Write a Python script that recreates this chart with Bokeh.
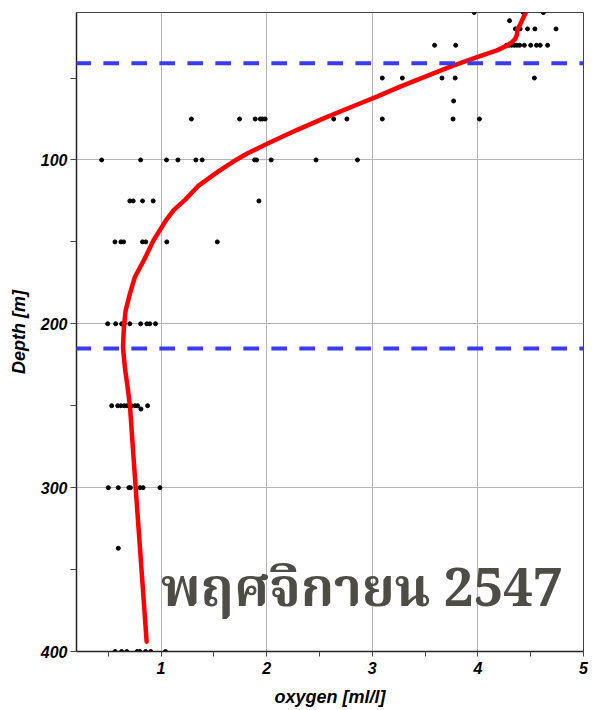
import math
from bokeh.plotting import figure
from bokeh.models import Range1d, FixedTicker, Label, BoxAnnotation, ColumnDataSource
from bokeh.embed import file_html
from bokeh.resources import INLINE

# ---- data ----
sample_depth_m = (
    [10] * 3 + [15] * 1 + [20] * 5 + [30] * 13 + [50] * 5 + [64] * 1 + [75] * 11
    + [100] * 11 + [125] * 5 + [150] * 7 + [200] * 9 + [250] * 9 + [252] * 1
    + [300] * 7 + [337] * 1 + [400] * 8
)
sample_oxygen = [
    3.965, 4.43, 4.62,
    4.30,
    4.355, 4.40, 4.47, 4.54, 4.74,
    3.59, 3.79, 4.27, 4.295, 4.32, 4.345, 4.37, 4.395, 4.44, 4.50, 4.555, 4.59, 4.66,
    3.095, 3.285, 3.66, 3.785, 4.535,
    3.77,
    1.288, 1.744, 1.892, 1.94, 1.96, 1.986, 2.635, 2.76, 3.095, 3.765, 4.015,
    0.438, 0.807, 1.052, 1.16, 1.33, 1.39, 1.886, 1.905, 2.043, 2.468, 2.86,
    0.705, 0.737, 0.825, 0.926, 1.927,
    0.564, 0.62, 0.646, 0.825, 0.856, 1.055, 1.533,
    0.495, 0.571, 0.627, 0.652, 0.705, 0.807, 0.866, 0.894, 0.948,
    0.533, 0.59, 0.62, 0.652, 0.677, 0.72, 0.753, 0.778, 0.873,
    0.81,
    0.502, 0.596, 0.696, 0.71, 0.80, 0.83, 0.99,
    0.596,
    0.565, 0.627, 0.676, 0.774, 0.80, 0.854, 0.903, 1.042,
]

# fitted profile (red curve)
profile_depth_m = [8, 13.2, 17.3, 20.4, 23.5, 26.1, 28.2, 30.2, 33.1, 36.7, 40.2, 43.8,
                   49.4, 55.1, 61.2, 66.9, 74.5, 81.6, 90, 95.9, 100, 107.1, 116,
                   124.5, 130.6, 137, 149, 161.2, 171.4, 181.6, 191.9, 202, 214.3,
                   226.6, 238.8, 250, 300, 345, 394]
profile_oxygen = [4.47, 4.43, 4.40, 4.375, 4.37, 4.354, 4.32, 4.275, 4.18, 4.02, 3.866,
                  3.71, 3.49, 3.27, 3.05, 2.83, 2.545, 2.29, 2.01, 1.82, 1.71, 1.54,
                  1.35, 1.225, 1.12, 1.045, 0.93, 0.838, 0.753, 0.706, 0.665, 0.649,
                  0.640, 0.658, 0.684, 0.706, 0.76, 0.81, 0.864]

layer_bounds_m = [41, 215]

x_ticks = [1, 2, 3, 4, 5]
x_minor_ticks = [0.5, 1.5, 2.5, 3.5, 4.5]
y_ticks = [100, 200, 300, 400]
y_minor_ticks = [50, 150, 250, 350]

title_text = "พฤศจิกายน 2547"
credit_text = "Ocean Data View"
x_label = "oxygen [ml/l]"
y_label = "Depth [m]"

# ---- figure ----
p = figure(width=598, height=710, output_backend="svg", toolbar_location=None,
           x_range=Range1d(0.2, 5), y_range=Range1d(400, 10),
           min_border_left=76, min_border_right=15, min_border_top=12,
           min_border_bottom=59)
p.background_fill_color = "white"
p.border_fill_color = "white"
p.outline_line_color = "#444444"
p.outline_line_width = 1

FONT = "Liberation Sans"
for ax in (p.xaxis[0], p.yaxis[0]):
    ax.major_label_text_font = FONT
    ax.major_label_text_font_style = "bold italic"
    ax.major_label_text_font_size = "16px"
    ax.major_label_text_color = "black"
    ax.axis_label_text_font = FONT
    ax.axis_label_text_font_style = "bold italic"
    ax.axis_label_text_font_size = "18px"
    ax.axis_label_text_color = "black"
    ax.axis_line_color = "#222222"
    ax.axis_line_width = 1.5
    ax.major_tick_in = 0
    ax.minor_tick_in = 0
    ax.major_tick_line_color = "#444444"
    ax.minor_tick_line_color = "#444444"

p.xaxis.major_tick_out = 5
p.xaxis.minor_tick_out = 5
p.yaxis.major_tick_out = 6
p.yaxis.minor_tick_out = 6
p.xaxis.ticker = FixedTicker(ticks=x_ticks, minor_ticks=x_minor_ticks)
p.yaxis.ticker = FixedTicker(ticks=y_ticks, minor_ticks=y_minor_ticks)
p.xaxis.axis_label = x_label
p.yaxis.axis_label = y_label
p.xaxis.major_label_standoff = 5
p.yaxis.major_label_standoff = 3
p.xaxis.axis_label_standoff = 10
p.yaxis.axis_label_standoff = 9

p.xgrid.ticker = FixedTicker(ticks=x_ticks)
p.ygrid.ticker = FixedTicker(ticks=y_ticks)
p.grid.grid_line_color = "#b4b4b4"
p.grid.grid_line_width = 1

# Thai title behind the data
p.add_layout(Label(x=1.0, y=363.5, text=title_text,
                   text_font="'Noto Serif Thai', 'Liberation Serif', serif",
                   text_font_style="bold", text_font_size="53px",
                   text_color="#4e4d45", text_baseline="alphabetic",
                   text_align="left", level="underlay"))

src = ColumnDataSource(dict(x=sample_oxygen, y=sample_depth_m))
p.scatter("x", "y", source=src, size=4, color="black")

p.line(profile_oxygen, profile_depth_m, line_color="#ff0000", line_width=4.5,
       line_join="round", line_cap="round")

# dashed layer boundaries, running across the whole picture width
for d in layer_bounds_m:
    p.add_layout(BoxAnnotation(left=-0.6, right=5.3, top=d, bottom=d,
                               fill_alpha=0, line_color="#3a3af2", line_alpha=1,
                               line_width=4, line_dash="15 13", level="overlay"))

p.add_layout(Label(x=5.076, y=402, text=credit_text, angle=math.pi / 2,
                   text_font=FONT, text_font_style="italic",
                   text_font_size="10.5px", text_color="#222222",
                   text_align="left", text_baseline="middle"))

open("out.html", "w").write(file_html(p, INLINE))
